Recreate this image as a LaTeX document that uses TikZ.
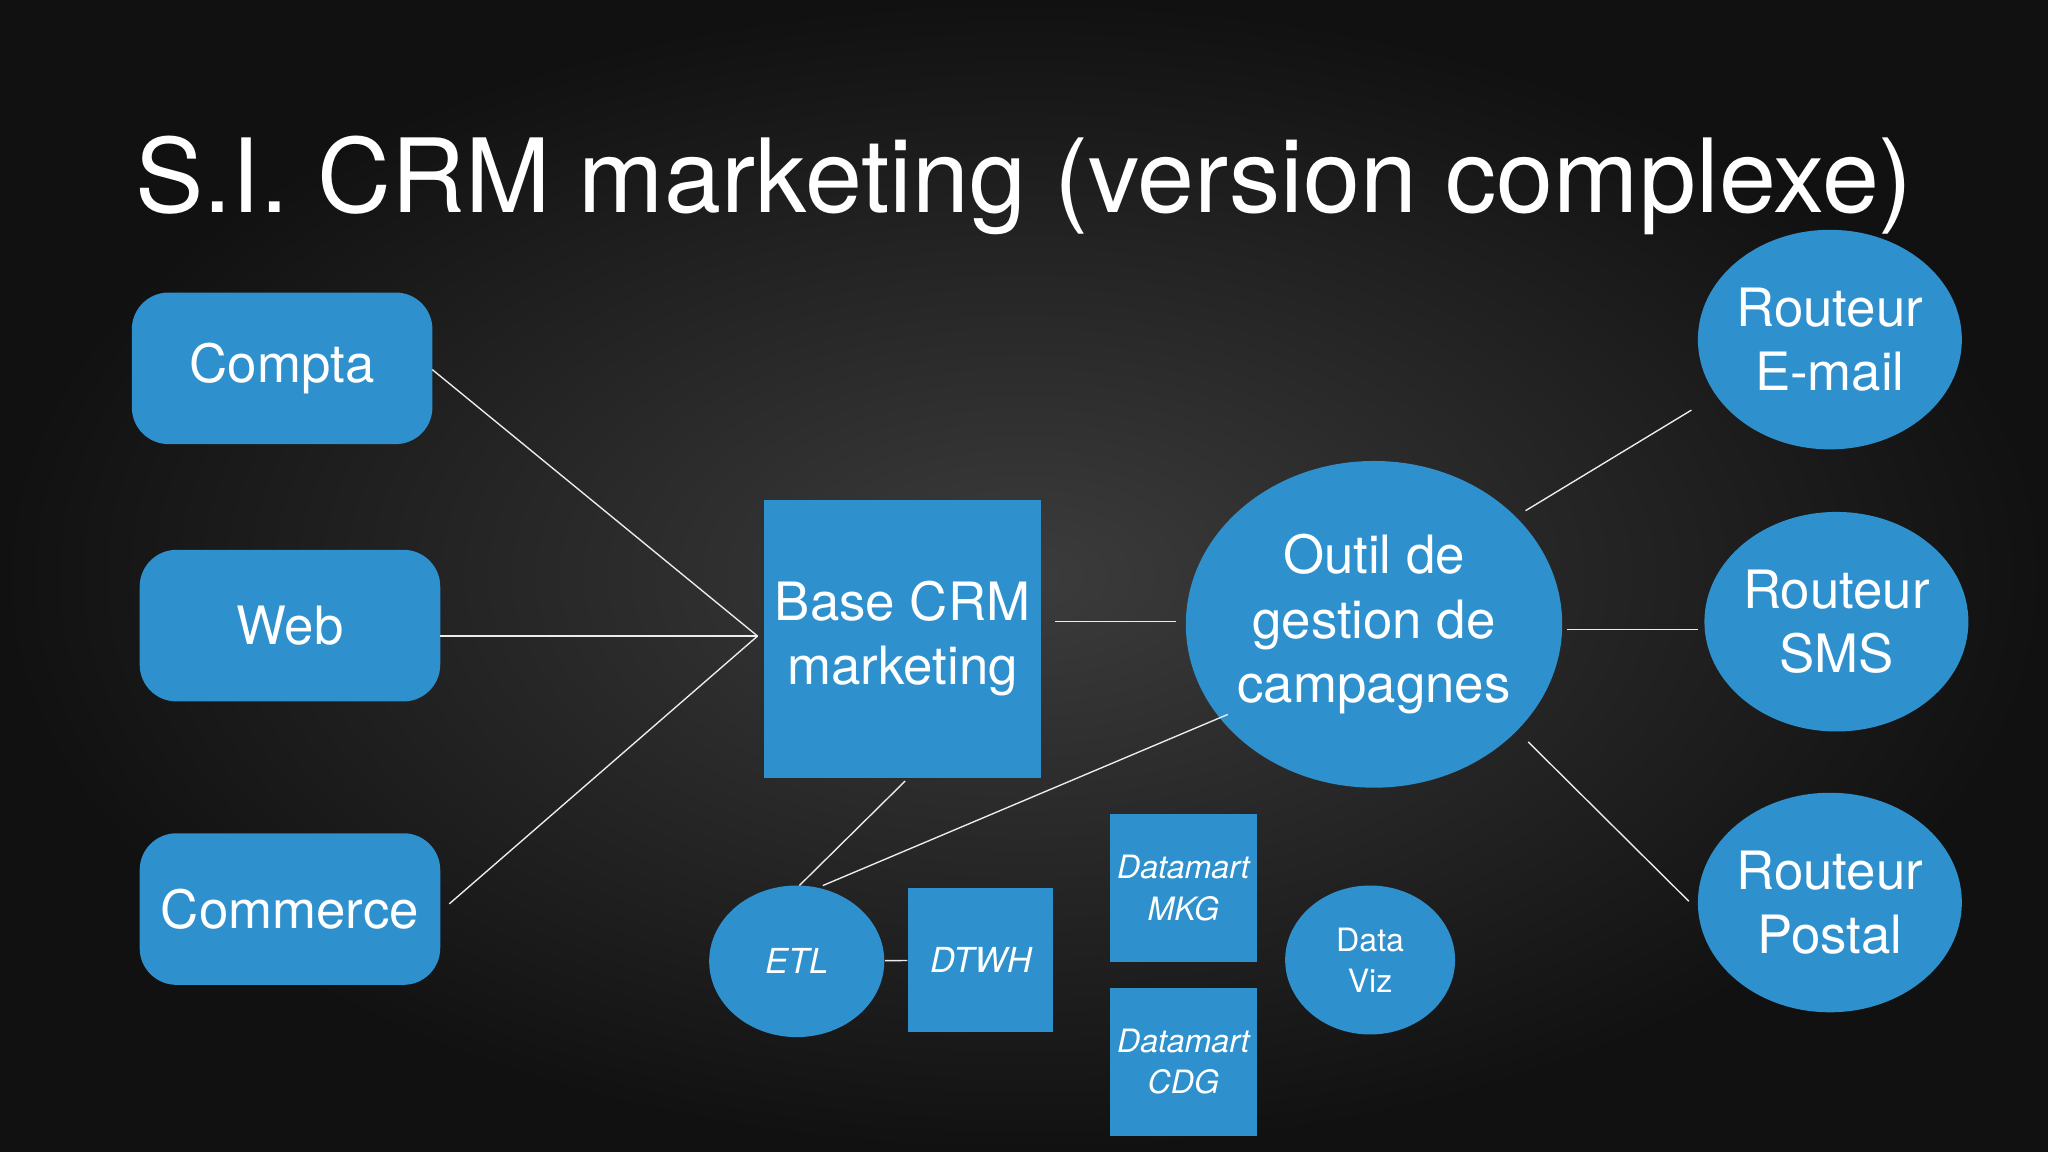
\documentclass[tikz,border=0pt]{standalone}
\usepackage{fontspec}
\setmainfont{TeX Gyre Heros}
\usetikzlibrary{shapes.geometric}
\definecolor{bluebox}{HTML}{2E90CC}
\definecolor{bgin}{HTML}{3C3C3C}
\definecolor{bgout}{HTML}{111111}
\begin{document}
\begin{tikzpicture}[x=0.01cm,y=-0.01cm,
  rbox/.style={fill=bluebox,rounded corners=8pt,inner sep=0pt,text=white,align=center,font=\fontsize{11.5}{14}\selectfont},
  sbox/.style={fill=bluebox,inner sep=0pt,text=white,align=center},
  ell/.style={fill=bluebox,ellipse,inner sep=-2pt,text=white,align=center},
  conn/.style={draw=white!85!gray,line width=0.3pt}]
\shade[inner color=bgin,outer color=bgout] (0,0) rectangle (1568,882);
\useasboundingbox (0,0) rectangle (1568,882);
\node[text=white,anchor=west,font=\fontsize{22.3}{26}\selectfont] (title) at (91,142) {S.I. CRM marketing (version complexe)};
\node[rbox,minimum width=2.3cm,minimum height=1.16cm] (compta) at (216,282) {Compta};
\node[rbox,minimum width=2.3cm,minimum height=1.16cm] (web) at (222,479) {Web};
\node[rbox,minimum width=2.3cm,minimum height=1.16cm] (commerce) at (222,696) {Commerce};
\node[sbox,minimum width=2.12cm,minimum height=2.13cm,font=\fontsize{11.5}{14}\selectfont] (base) at (691,489) {Base CRM\\marketing};
\node[ell,minimum width=2.88cm,minimum height=2.5cm,font=\fontsize{11.5}{14}\selectfont] (outil) at (1052,478) {Outil de\\gestion de\\campagnes};
\node[ell,minimum width=2.02cm,minimum height=1.68cm,font=\fontsize{11.5}{14}\selectfont] (email) at (1401,260) {Routeur\\E-mail};
\node[ell,minimum width=2.02cm,minimum height=1.68cm,font=\fontsize{11.5}{14}\selectfont] (sms) at (1406,476) {Routeur\\SMS};
\node[ell,minimum width=2.02cm,minimum height=1.68cm,font=\fontsize{11.5}{14}\selectfont] (postal) at (1401,691) {Routeur\\Postal};
\node[ell,minimum width=1.34cm,minimum height=1.16cm,font=\fontsize{7.5}{9}\selectfont\itshape] (etl) at (610,736) {ETL};
\node[sbox,minimum width=1.11cm,minimum height=1.1cm,font=\fontsize{7.5}{9}\selectfont\itshape] (dtwh) at (751,735) {DTWH};
\node[sbox,minimum width=1.13cm,minimum height=1.13cm,font=\fontsize{7}{9}\selectfont\itshape] (mkg) at (906,680) {Datamart\\MKG};
\node[sbox,minimum width=1.13cm,minimum height=1.13cm,font=\fontsize{7}{9}\selectfont\itshape] (cdg) at (906,813) {Datamart\\CDG};
\node[ell,minimum width=1.3cm,minimum height=1.14cm,font=\fontsize{7}{9}\selectfont] (viz) at (1049,735) {Data\\Viz};
\coordinate (hub) at (580,487);
\coordinate (c1) at (331,283);
\coordinate (w1) at (337,487);
\coordinate (m1) at (344,692);
\coordinate (b1) at (808,476);
\coordinate (o1) at (900,476);
\coordinate (o2) at (1168,391);
\coordinate (e1) at (1295,314);
\coordinate (o3) at (1200,482);
\coordinate (s1) at (1300,482);
\coordinate (o4) at (1170,568);
\coordinate (p1) at (1293,690);
\coordinate (t1) at (612,678);
\coordinate (b2) at (693,598);
\coordinate (t2) at (630,678);
\coordinate (o5) at (940,547);
\draw[conn] (c1) -- (hub);
\draw[conn] (w1) -- (hub);
\draw[conn] (m1) -- (hub);
\draw[conn] (b1) -- (o1);
\draw[conn] (o2) -- (e1);
\draw[conn] (o3) -- (s1);
\draw[conn] (o4) -- (p1);
\draw[conn] (t1) -- (b2);
\draw[conn] (t2) -- (o5);
\draw[conn] (etl) -- (dtwh);
\end{tikzpicture}
\end{document}
